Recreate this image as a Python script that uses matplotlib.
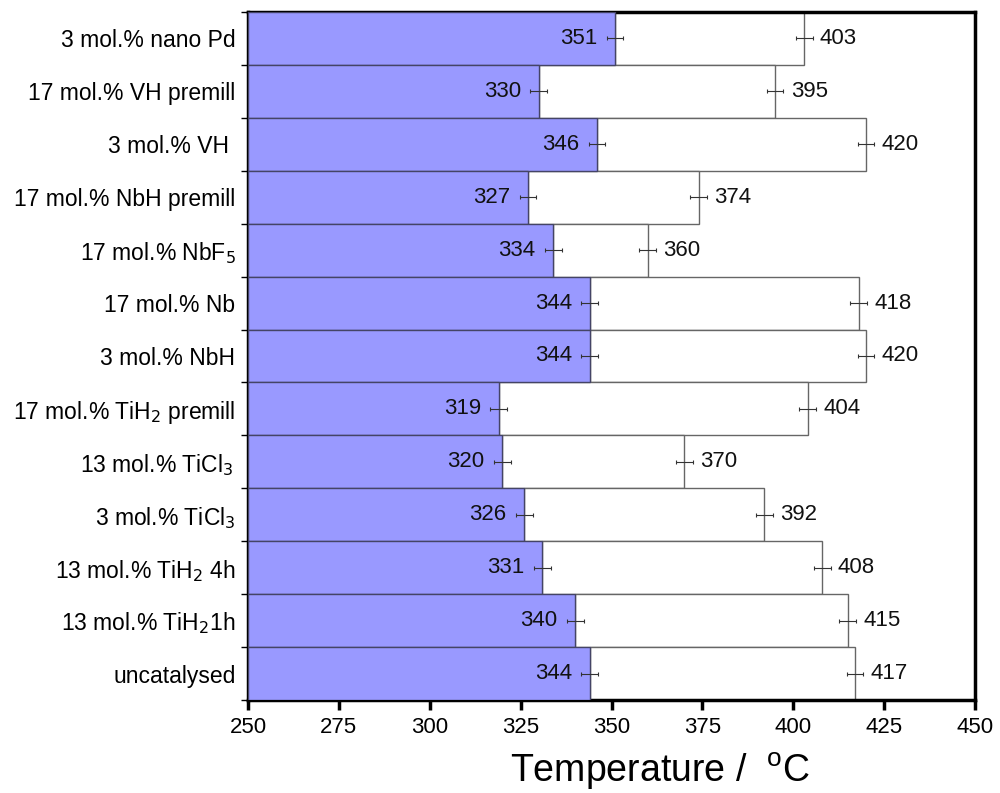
import numpy as np
import matplotlib.pyplot as plt

plt.rcParams['font.family'] = ['Liberation Sans', 'DejaVu Sans']

# categories from top to bottom
samples = ['3 mol.% nano Pd', '17 mol.% VH premill', '3 mol.% VH ',
           '17 mol.% NbH premill', r'17 mol.% NbF$_5$', '17 mol.% Nb',
           '3 mol.% NbH', r'17 mol.% TiH$_2$ premill', r'13 mol.% TiCl$_3$ ',
           r'3 mol.% TiCl$_3$', r'13 mol.% TiH$_2$ 4h', r'13 mol.% TiH$_2$1h',
           'uncatalysed']
onset = [351, 330, 346, 327, 334, 344, 344, 319, 320, 326, 331, 340, 344]
peak = [403, 395, 420, 374, 360, 418, 420, 404, 370, 392, 408, 415, 417]
err = 2.3

onset = np.array(onset)
peak = np.array(peak)
y = np.arange(len(samples))[::-1]

fig = plt.figure(figsize=(10, 7.93), dpi=100)
ax = fig.add_axes([0.248, 0.1173, 0.727, 0.8676])

ax.barh(y, peak - onset, left=onset, height=1.0, color='white',
        edgecolor='#666666', linewidth=1.0, zorder=2)
ax.barh(y, onset - 250, left=250, height=1.0, color='#9999ff',
        edgecolor='#444466', linewidth=1.0, zorder=3)

ax.errorbar(onset, y, xerr=err, fmt='none', ecolor='#333333',
            elinewidth=0.8, capsize=1.2, capthick=0.8, zorder=4)
ax.errorbar(peak, y, xerr=err, fmt='none', ecolor='#333333',
            elinewidth=0.8, capsize=1.2, capthick=0.8, zorder=4)

for yi, a, b in zip(y, onset, peak):
    ax.text(a - err - 2.6, yi, str(a), ha='right', va='center',
            fontsize=16, color='#111111', zorder=5)
    ax.text(b + err + 2.0, yi, str(b), ha='left', va='center',
            fontsize=16, color='#111111', zorder=5)

ax.set_xlim(250, 450)
ax.set_ylim(-0.5, len(samples) - 0.5)
ax.set_xticks(np.arange(250, 451, 25))
ax.tick_params(axis='x', direction='out', length=7, width=2.5,
               labelsize=16, pad=5)

ax.set_yticks(y)
ax.set_yticklabels(samples, fontsize=16.5)
ax.set_yticks(np.arange(-0.5, len(samples), 1.0), minor=True)
ax.tick_params(axis='y', which='major', length=0, pad=9)
ax.tick_params(axis='y', which='minor', direction='out', length=5, width=1)

for s in ax.spines.values():
    s.set_linewidth(2.5)

ax.set_xlabel(r'Temperature /  $^{\mathregular{o}}$C', fontsize=27)
ax.xaxis.set_label_coords(0.566, -0.074)

fig.savefig('out.png', dpi=100)
